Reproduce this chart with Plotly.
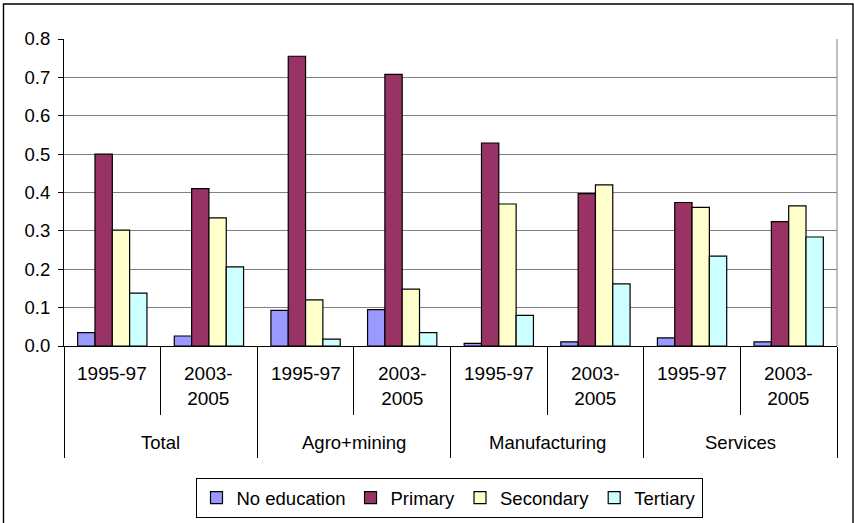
import plotly.graph_objects as go

# ---- data ----
sectors = ["Total", "Agro+mining", "Manufacturing", "Services"]
periods = ["1995-97", "2003-<br>2005"]
series_names = ["No education", "Primary", "Secondary", "Tertiary"]
no_education = [0.035, 0.026, 0.093, 0.095, 0.007, 0.011, 0.021, 0.011]
primary      = [0.500, 0.410, 0.755, 0.708, 0.529, 0.397, 0.374, 0.324]
secondary    = [0.302, 0.334, 0.120, 0.148, 0.370, 0.420, 0.361, 0.365]
tertiary     = [0.138, 0.206, 0.018, 0.035, 0.080, 0.162, 0.234, 0.284]
y_ticks = [0.0, 0.1, 0.2, 0.3, 0.4, 0.5, 0.6, 0.7, 0.8]

colors = ["#9999FF", "#993366", "#FFFFCC", "#CCFFFF"]
values = [no_education, primary, secondary, tertiary]

n_cat = len(sectors) * len(periods)
x_idx = list(range(n_cat))

FONT = "Liberation Sans, Arial, sans-serif"
FS = 18.5

fig = go.Figure()
for name, vals, col in zip(series_names, values, colors):
    fig.add_trace(go.Bar(
        x=x_idx, y=vals, name=name,
        marker=dict(color=col, line=dict(color="black", width=1.2)),
    ))

W, H = 854, 523
L, R, T, B = 64, 837, 39, 346
pw, ph = R - L, B - T

def px2paper_x(px):
    return (px - L) / pw

def px2paper_y(py):
    return (B - py) / ph

# group boundaries and sub-category boundaries
group_bounds = [i * len(periods) - 0.5 for i in range(len(sectors) + 1)]
sub_bounds = [i * len(periods) + 0.5 for i in range(len(sectors))]

fig.update_layout(
    width=W, height=H,
    margin=dict(l=L, r=W - R, t=T, b=H - B, autoexpand=False),
    paper_bgcolor="white", plot_bgcolor="white",
    barmode="group", bargap=0.283, bargroupgap=0,
    font=dict(family=FONT, size=FS, color="black"),
    showlegend=True,
    legend=dict(
        orientation="h", x=px2paper_x(449), xanchor="center",
        y=px2paper_y(498), yanchor="middle",
        bordercolor="black", borderwidth=1, bgcolor="white",
        font=dict(family=FONT, size=FS), itemwidth=30,
        traceorder="normal",
    ),
    xaxis=dict(
        range=[-0.5, n_cat - 0.5],
        showgrid=False, zeroline=False, automargin=False,
        showline=True, linecolor="black", linewidth=1,
        tickmode="array", tickvals=group_bounds, ticktext=[""] * len(group_bounds),
        ticks="outside", ticklen=111, tickcolor="black", tickwidth=1,
        minor=dict(tickmode="array", tickvals=sub_bounds, ticks="outside",
                   ticklen=68, tickcolor="black", tickwidth=1, showgrid=False),
        fixedrange=True,
    ),
    yaxis=dict(
        range=[0, 0.8], automargin=False,
        tickmode="array", tickvals=y_ticks,
        ticktext=[f"{v:.1f}" for v in y_ticks],
        showgrid=True, gridcolor="#808080", gridwidth=1,
        zeroline=False,
        showline=True, linecolor="black", linewidth=1,
        ticks="outside", ticklen=5, tickcolor="black",
        ticklabelstandoff=4,
        fixedrange=True,
    ),
)

annotations = []
for gi, sec in enumerate(sectors):
    for pi, per in enumerate(periods):
        ci = gi * len(periods) + pi
        annotations.append(dict(
            x=ci, y=0, xref="x", yref="paper", text=per, showarrow=False,
            xanchor="center", yanchor="top", yshift=-(361 - B),
            font=dict(family=FONT, size=19),
        ))
    annotations.append(dict(
        x=gi * len(periods) + (len(periods) - 1) / 2, y=0, xref="x", yref="paper",
        text=sec, showarrow=False, xanchor="center", yanchor="middle",
        yshift=-(442 - B), font=dict(family=FONT, size=FS),
    ))
fig.update_layout(annotations=annotations)

shapes = [
    # plot area right border (gray)
    dict(type="line", xref="paper", yref="paper", x0=1, x1=1, y0=0, y1=1,
         line=dict(color="#808080", width=1)),
    # outer chart border
    dict(type="rect", xref="paper", yref="paper",
         x0=px2paper_x(3.5), x1=px2paper_x(853), y0=px2paper_y(530), y1=px2paper_y(4),
         line=dict(color="black", width=1.4), layer="below"),
]
fig.update_layout(shapes=shapes)

fig.write_html("out.html")
